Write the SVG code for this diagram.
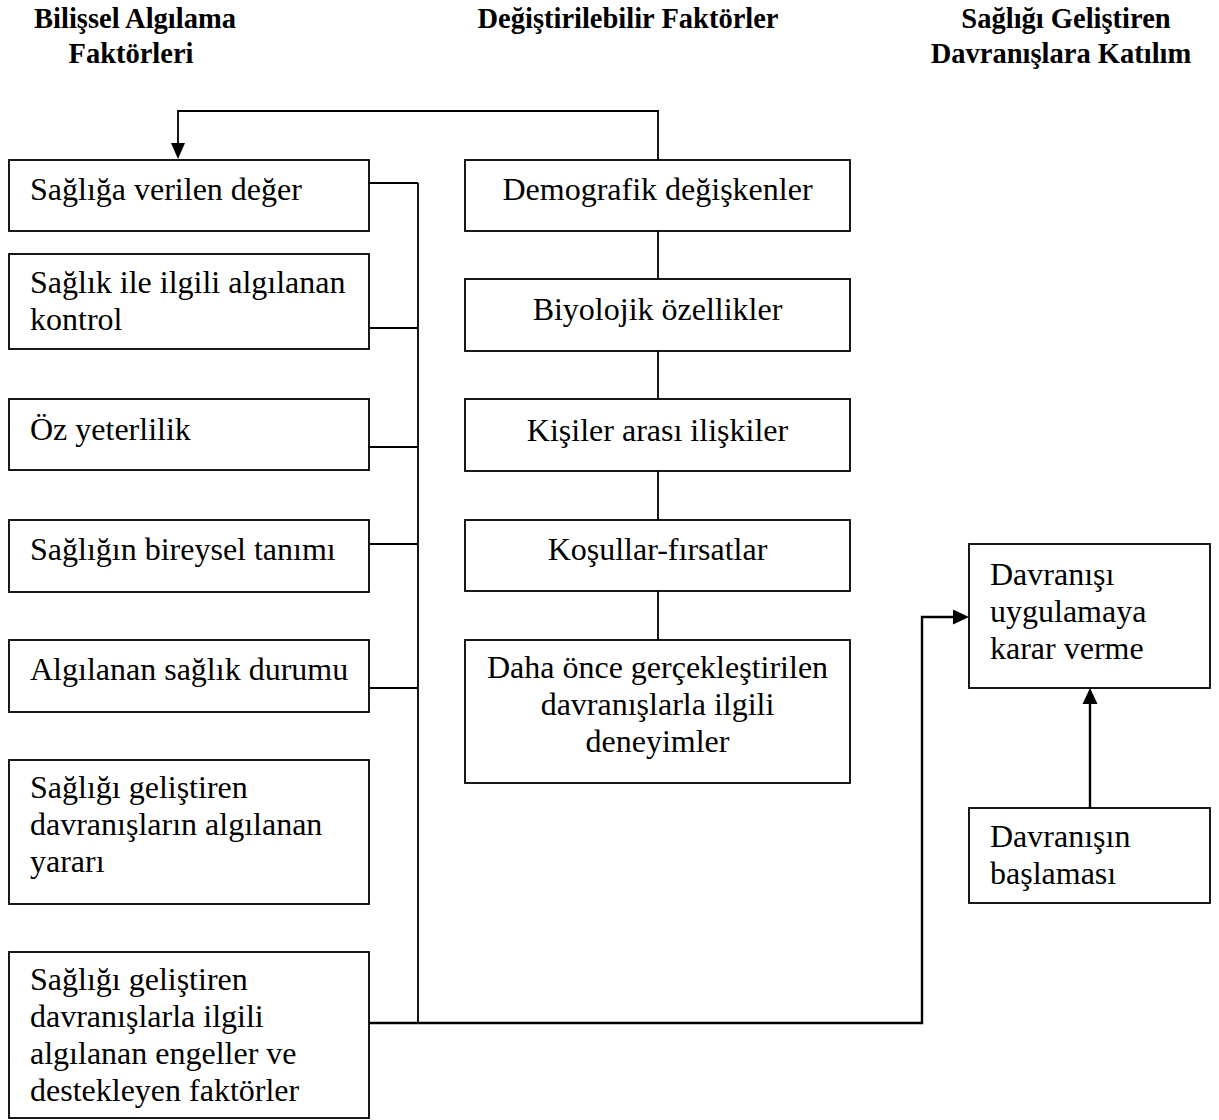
<svg xmlns="http://www.w3.org/2000/svg" width="1219" height="1120" viewBox="0 0 1219 1120">
<style>
.box{fill:#fff;stroke:#000;stroke-width:1.8}
.t{font-family:"Liberation Serif","Times New Roman",serif;font-size:32px;fill:#000}
.c{text-anchor:middle}
.h{font-family:"Liberation Serif","Times New Roman",serif;font-size:28.5px;font-weight:bold;fill:#000;text-anchor:middle}
.ln{fill:none;stroke:#000;stroke-width:1.8}
.ar{fill:none;stroke:#000;stroke-width:2.4}
</style>
<rect width="1219" height="1120" fill="#fff"/>
<g id="headers">
<text class="h" x="135" y="28">Bilişsel Algılama</text>
<text class="h" x="131" y="63">Faktörleri</text>
<text class="h" x="628" y="28">Değiştirilebilir Faktörler</text>
<text class="h" x="1066" y="28">Sağlığı Geliştiren</text>
<text class="h" x="1061" y="63">Davranışlara Katılım</text>
</g>
<g id="connectors">
<path class="ln" d="M658,160 V111 H178 V146"/>
<polygon points="171,143 185,143 178,159" fill="#000"/>
<path class="ln" d="M658,231 V279 M658,351 V399 M658,471 V520 M658,591 V640"/>
<path class="ln" d="M369,183 H418 M369,328 H418 M369,447 H418 M369,544 H418 M369,688 H418 M418,183 V1023"/>
<path class="ar" d="M369,1023 H922 V617 H955"/>
<polygon points="953,609.5 953,624.5 969,617" fill="#000"/>
<path class="ar" d="M1090,808 V701"/>
<polygon points="1082.5,704 1097.5,704 1090,688" fill="#000"/>
</g>
<g id="n1"><rect class="box" x="9" y="160" width="360" height="71"/><text class="t" x="30" y="200">Sağlığa verilen değer</text></g>
<g id="n2"><rect class="box" x="9" y="254" width="360" height="95"/><text class="t" x="30" y="293">Sağlık ile ilgili algılanan</text><text class="t" x="30" y="330">kontrol</text></g>
<g id="n3"><rect class="box" x="9" y="399" width="360" height="71"/><text class="t" x="30" y="440">Öz yeterlilik</text></g>
<g id="n4"><rect class="box" x="9" y="520" width="360" height="72"/><text class="t" x="30" y="560">Sağlığın bireysel tanımı</text></g>
<g id="n5"><rect class="box" x="9" y="640" width="360" height="72"/><text class="t" x="30" y="680">Algılanan sağlık durumu</text></g>
<g id="n6"><rect class="box" x="9" y="760" width="360" height="144"/><text class="t" x="30" y="798">Sağlığı geliştiren</text><text class="t" x="30" y="835">davranışların algılanan</text><text class="t" x="30" y="872">yararı</text></g>
<g id="n7"><rect class="box" x="9" y="952" width="360" height="166"/><text class="t" x="30" y="990">Sağlığı geliştiren</text><text class="t" x="30" y="1027">davranışlarla ilgili</text><text class="t" x="30" y="1064">algılanan engeller ve</text><text class="t" x="30" y="1101">destekleyen faktörler</text></g>
<g id="m1"><rect class="box" x="465" y="160" width="385" height="71"/><text class="t c" x="657.5" y="200">Demografik değişkenler</text></g>
<g id="m2"><rect class="box" x="465" y="279" width="385" height="72"/><text class="t c" x="657.5" y="320">Biyolojik özellikler</text></g>
<g id="m3"><rect class="box" x="465" y="399" width="385" height="72"/><text class="t c" x="657.5" y="441">Kişiler arası ilişkiler</text></g>
<g id="m4"><rect class="box" x="465" y="520" width="385" height="71"/><text class="t c" x="657.5" y="560">Koşullar-fırsatlar</text></g>
<g id="m5"><rect class="box" x="465" y="640" width="385" height="143"/><text class="t c" x="657.5" y="678">Daha önce gerçekleştirilen</text><text class="t c" x="657.5" y="715">davranışlarla ilgili</text><text class="t c" x="657.5" y="752">deneyimler</text></g>
<g id="r1"><rect class="box" x="969" y="544" width="241" height="144"/><text class="t" x="990" y="585">Davranışı</text><text class="t" x="990" y="622">uygulamaya</text><text class="t" x="990" y="659">karar verme</text></g>
<g id="r2"><rect class="box" x="969" y="808" width="241" height="95"/><text class="t" x="990" y="847">Davranışın</text><text class="t" x="990" y="884">başlaması</text></g>
</svg>
